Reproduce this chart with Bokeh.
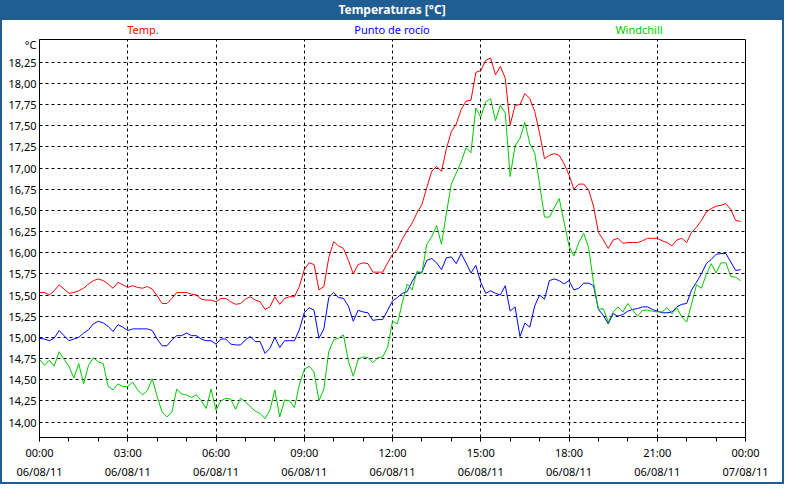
import pandas as pd
from bokeh.plotting import figure
from bokeh.models import Div, FixedTicker, Range1d
from bokeh.layouts import column
from bokeh.embed import file_html
from bokeh.resources import INLINE

# ---------------- data (10-minute samples, 06/08/2011) ----------------
start = pd.Timestamp("2011-08-06 00:00")
times = pd.date_range(start, periods=144, freq="10min")

temp = [
    15.53, 15.53, 15.50, 15.55, 15.62, 15.57,
    15.52, 15.53, 15.55, 15.58, 15.63, 15.67,
    15.69, 15.67, 15.63, 15.58, 15.65, 15.62,
    15.59, 15.61, 15.59, 15.58, 15.60, 15.57,
    15.49, 15.40, 15.40, 15.46, 15.53, 15.53,
    15.53, 15.51, 15.50, 15.45, 15.44, 15.44,
    15.42, 15.46, 15.46, 15.42, 15.39, 15.40,
    15.45, 15.48, 15.44, 15.42, 15.33, 15.36,
    15.48, 15.39, 15.46, 15.48, 15.48, 15.60,
    15.80, 15.88, 15.86, 15.56, 15.60, 15.94,
    16.13, 16.08, 16.05, 15.91, 15.75, 15.86,
    15.88, 15.87, 15.77, 15.77, 15.77, 15.88,
    15.98, 16.04, 16.16, 16.26, 16.35, 16.47,
    16.57, 16.77, 16.96, 17.02, 16.96, 17.23,
    17.43, 17.52, 17.69, 17.79, 17.80, 18.13,
    18.15, 18.27, 18.30, 18.10, 18.20, 18.06,
    17.51, 17.74, 17.75, 17.88, 17.82, 17.67,
    17.41, 17.11, 17.15, 17.17, 17.15, 17.05,
    16.92, 16.75, 16.81, 16.81, 16.74, 16.55,
    16.24, 16.15, 16.05, 16.15, 16.17, 16.11,
    16.12, 16.12, 16.12, 16.14, 16.17, 16.17,
    16.17, 16.14, 16.12, 16.08, 16.15, 16.17,
    16.12, 16.24, 16.30, 16.38, 16.48, 16.52,
    16.55, 16.56, 16.58, 16.51, 16.38, 16.37,
]

dew_point = [
    14.99, 14.98, 14.96, 14.99, 15.08, 15.02,
    14.96, 14.98, 15.00, 15.05, 15.09, 15.16,
    15.19, 15.17, 15.13, 15.07, 15.15, 15.12,
    15.08, 15.10, 15.10, 15.10, 15.10, 15.08,
    14.98, 14.90, 14.90, 14.97, 15.02, 15.02,
    15.05, 15.02, 15.02, 14.98, 14.96, 14.96,
    14.92, 14.98, 14.98, 14.92, 14.91, 14.91,
    14.97, 15.01, 14.95, 14.95, 14.81, 14.87,
    15.00, 14.88, 14.96, 14.96, 14.96, 15.09,
    15.29, 15.35, 15.32, 14.99, 15.10, 15.47,
    15.53, 15.47, 15.46, 15.37, 15.19, 15.32,
    15.30, 15.29, 15.20, 15.21, 15.21, 15.32,
    15.43, 15.47, 15.52, 15.54, 15.66, 15.76,
    15.77, 15.91, 15.93, 15.88, 15.80, 15.94,
    15.95, 15.87, 15.99, 15.88, 15.76, 15.85,
    15.65, 15.52, 15.55, 15.52, 15.50, 15.61,
    15.31, 15.36, 15.01, 15.17, 15.12, 15.37,
    15.50, 15.45, 15.67, 15.69, 15.67, 15.63,
    15.67, 15.56, 15.58, 15.64, 15.64, 15.61,
    15.33, 15.26, 15.16, 15.28, 15.25, 15.27,
    15.31, 15.33, 15.34, 15.36, 15.36, 15.33,
    15.31, 15.29, 15.29, 15.30, 15.36, 15.39,
    15.40, 15.56, 15.65, 15.75, 15.87, 15.92,
    15.98, 15.99, 15.99, 15.89, 15.79, 15.80,
]

windchill = [
    14.74, 14.67, 14.73, 14.66, 14.83, 14.74,
    14.66, 14.52, 14.69, 14.45, 14.67, 14.76,
    14.71, 14.69, 14.42, 14.38, 14.45, 14.42,
    14.42, 14.47, 14.38, 14.32, 14.37, 14.51,
    14.30, 14.12, 14.06, 14.12, 14.39, 14.33,
    14.32, 14.29, 14.32, 14.25, 14.16, 14.39,
    14.14, 14.25, 14.28, 14.27, 14.15, 14.28,
    14.24, 14.18, 14.13, 14.10, 14.04, 14.14,
    14.38, 14.06, 14.26, 14.25, 14.17, 14.44,
    14.62, 14.66, 14.59, 14.25, 14.39, 14.83,
    14.97, 14.99, 15.03, 14.72, 14.54, 14.74,
    14.77, 14.76, 14.70, 14.76, 14.77, 14.88,
    15.19, 15.16, 15.41, 15.63, 15.56, 15.78,
    15.76, 16.10, 16.19, 16.32, 16.10, 16.47,
    16.81, 16.94, 17.07, 17.24, 17.18, 17.71,
    17.60, 17.78, 17.82, 17.56, 17.74, 17.65,
    16.90, 17.26, 17.35, 17.54, 17.29, 17.18,
    16.81, 16.42, 16.42, 16.53, 16.64, 16.36,
    16.08, 15.96, 16.12, 16.23, 16.06, 15.65,
    15.33, 15.34, 15.18, 15.30, 15.36, 15.30,
    15.40, 15.32, 15.25, 15.32, 15.32, 15.31,
    15.30, 15.30, 15.35, 15.28, 15.35, 15.24,
    15.18, 15.39, 15.62, 15.58, 15.74, 15.87,
    15.76, 15.88, 15.88, 15.72, 15.71, 15.67,
]

y_ticks = [14.00, 14.25, 14.50, 14.75, 15.00, 15.25, 15.50, 15.75, 16.00,
           16.25, 16.50, 16.75, 17.00, 17.25, 17.50, 17.75, 18.00, 18.25]
y_tick_labels = ["14,00", "14,25", "14,50", "14,75", "15,00", "15,25", "15,50", "15,75", "16,00",
                 "16,25", "16,50", "16,75", "17,00", "17,25", "17,50", "17,75", "18,00", "18,25"]
y_unit_label = "°C"

x_tick_hours = [0, 3, 6, 9, 12, 15, 18, 21, 24]
x_tick_labels = ["00:00\n06/08/11", "03:00\n06/08/11", "06:00\n06/08/11", "09:00\n06/08/11",
                 "12:00\n06/08/11", "15:00\n06/08/11", "18:00\n06/08/11", "21:00\n06/08/11",
                 "00:00\n07/08/11"]
x_minor_hours = list(range(0, 25))

series_names = ["Temp.", "Punto de rocío", "Windchill"]
series_colors = ["#ff0000", "#0000ff", "#00c800"]
chart_title = "Temperaturas [°C]"

# ---------------- layout constants ----------------
def ms(hours):
    return (start + pd.Timedelta(hours=hours)).timestamp() * 1000.0

BLUE = "#1f5d92"
FONT = "Noto Sans"
FIG_W, FIG_H = 780, 447
BORDER_L, BORDER_R, BORDER_T, BORDER_B = 37, 37, 4, 36
FRAME_W = FIG_W - BORDER_L - BORDER_R
TITLE_H, CAPTION_H = 20, 15

x0, x1 = ms(0), ms(24)
y0, y1 = 13.817, 18.518
unit_pos = y1 - 0.056  # where the unit caption sits, just under the frame top

p = figure(width=FIG_W, height=FIG_H, x_axis_type="datetime",
           x_range=Range1d(x0, x1), y_range=Range1d(y0, y1),
           output_backend="svg", toolbar_location=None,
           min_border_left=BORDER_L, min_border_right=BORDER_R,
           min_border_top=BORDER_T, min_border_bottom=BORDER_B,
           background_fill_color="white", border_fill_color="white")

p.outline_line_color = "black"
p.outline_line_width = 1

for name, col, vals in zip(series_names, series_colors, [temp, dew_point, windchill]):
    p.line(times, vals, line_color=col, line_width=1)

# x axis
p.xaxis.ticker = FixedTicker(ticks=[ms(h) for h in x_tick_hours],
                             minor_ticks=[ms(h) for h in x_minor_hours])
p.xaxis.major_label_overrides = {ms(h): lab for h, lab in zip(x_tick_hours, x_tick_labels)}
p.xaxis.major_tick_in = 0
p.xaxis.major_tick_out = 4
p.xaxis.minor_tick_in = 0
p.xaxis.minor_tick_out = 4
p.xaxis.major_tick_line_color = "black"
p.xaxis.minor_tick_line_color = "black"
p.xaxis.axis_line_color = "black"
p.xaxis.major_label_standoff = 3
p.xaxis.major_label_text_font = FONT
p.xaxis.major_label_text_font_size = "11px"
p.xaxis.major_label_text_color = "black"
p.xaxis.major_label_text_line_height = 1.3

# y axis (the unit caption is shown as an extra label near the top)
yaxis_ticks = y_ticks + [unit_pos]
yaxis_labels = {t: lab for t, lab in zip(y_ticks, y_tick_labels)}
yaxis_labels[unit_pos] = y_unit_label
p.yaxis.ticker = FixedTicker(ticks=yaxis_ticks, minor_ticks=[])
p.yaxis.major_label_overrides = yaxis_labels
p.yaxis.major_tick_in = 0
p.yaxis.major_tick_out = 0
p.yaxis.major_tick_line_color = None
p.yaxis.minor_tick_line_color = None
p.yaxis.axis_line_color = "black"
p.yaxis.major_label_standoff = 3
p.yaxis.major_label_text_font = FONT
p.yaxis.major_label_text_font_size = "11px"
p.yaxis.major_label_text_color = "black"

# grids
p.xgrid.ticker = FixedTicker(ticks=[ms(h) for h in x_tick_hours])
p.ygrid.ticker = FixedTicker(ticks=y_ticks)
for g in (p.xgrid, p.ygrid):
    g.grid_line_color = "black"
    g.grid_line_dash = "3 3"
    g.grid_line_width = 1
    g.grid_line_alpha = 1.0

# header: title bar + coloured series captions
legend_fracs = [0.147, 0.5, 0.85]
spans = "".join(
    f'<span style="position:absolute;left:{BORDER_L + f * FRAME_W:.0f}px;top:2px;'
    f'transform:translateX(-50%);white-space:nowrap;color:{c};">{n}</span>'
    for f, n, c in zip(legend_fracs, series_names, series_colors)
)
header_html = (
    f'<div style="width:{FIG_W}px;height:{TITLE_H}px;line-height:{TITLE_H}px;background:{BLUE};'
    f'color:white;font-weight:bold;font-size:12px;text-align:center;">{chart_title}</div>'
    f'<div style="position:relative;width:{FIG_W}px;height:{CAPTION_H}px;font-size:11px;'
    f'line-height:15px;">{spans}</div>'
)
header = Div(text=header_html, width=FIG_W, height=TITLE_H + CAPTION_H,
             styles={"font-family": FONT, "margin": "0", "padding": "0", "overflow": "visible"})

layout = column(header, p, spacing=0,
                styles={"border-left": f"2px solid {BLUE}", "border-right": f"2px solid {BLUE}",
                        "border-bottom": f"2px solid {BLUE}", "background-color": "white"})

open("out.html", "w").write(file_html(layout, INLINE))
